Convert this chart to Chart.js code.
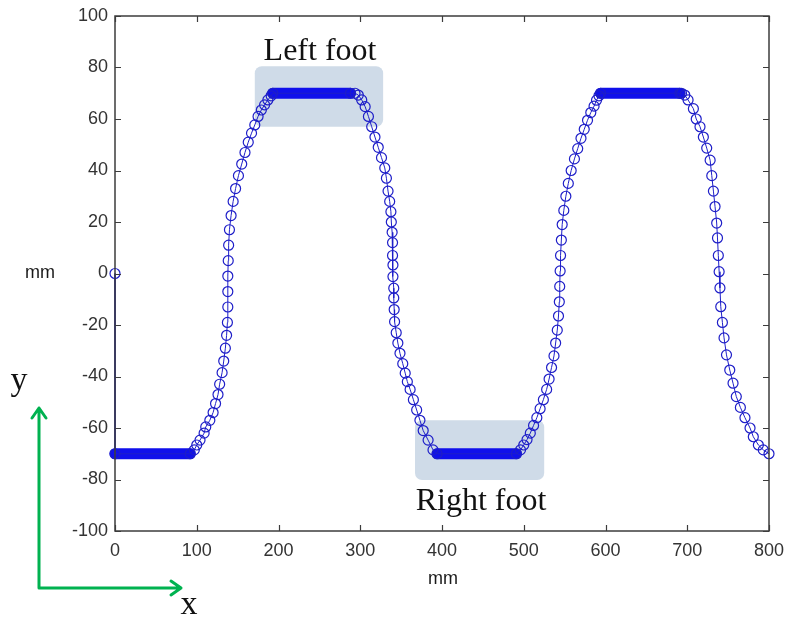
<!DOCTYPE html>
<html>
<head>
<meta charset="utf-8">
<script src="https://cdn.jsdelivr.net/npm/chart.js@4.4.1/dist/chart.umd.min.js"></script>
<style>
  body { margin: 0; background: #fff; }
  #wrap { width: 788px; height: 617px; position: relative; }
</style>
</head>
<body>
<div id="wrap"><canvas id="foot-chart"></canvas></div>
<script>
// x in mm (forward), y in mm (lateral)
const startPoint = { x: 0, y: 0 };

const riseOneX = [92, 97, 100, 104, 109, 111, 116, 120, 123, 126, 128, 131, 133, 135, 136.5, 137.5, 138, 138, 138, 138.5, 139, 140, 142, 144.5, 147.5, 151, 155, 159, 163, 167, 171, 175, 179, 183, 187, 191, 193];
const riseOneY = [-70, -68.5, -66.6, -64.7, -62, -59.6, -57, -54, -50.5, -47, -43, -38.5, -34, -29, -24, -19, -13, -7, -1, 5, 11, 17, 22.5, 28, 33, 38, 42.5, 47, 51, 54.5, 57.7, 61, 63.5, 65.5, 67.4, 69, 70];

const fallOneX = [288, 293.6, 297.6, 301.8, 306, 310, 314, 318, 322, 326, 330, 332, 334, 336, 337.5, 338, 339, 339.5, 339.5, 340, 340, 341, 341, 341.5, 342, 344, 346, 348.6, 352, 355, 357.6, 361, 365, 369, 373, 377, 383, 389, 394];
const fallOneY = [70, 70, 69.3, 67.4, 64.8, 61, 57, 53, 49, 45, 41, 37, 32, 28, 24, 20, 16, 12, 7, 3.3, -1.2, -5.7, -9.5, -14, -18.7, -23, -27, -31, -35, -38.7, -42, -45, -49, -53, -57, -61, -64.7, -68.5, -70];

const riseTwoX = [491, 496, 500, 504, 508, 512, 516, 520, 524, 528, 531, 534, 537, 539, 541, 542.5, 543.5, 544, 544.5, 545, 546, 547, 549, 551.5, 554.5, 558, 562, 566, 570, 574, 578, 582, 586, 589, 592, 594];
const riseTwoY = [-70, -68.5, -66.6, -64.5, -62, -59, -56, -52.5, -49, -45, -41, -36.5, -32, -27, -22, -16.5, -11, -5, 1, 7, 13, 19, 24.5, 30, 35, 40, 44.5, 48.5, 52.5, 56, 59.5, 62.5, 65, 67.3, 69, 70];

const fallTwoX = [691, 693, 697, 701, 707.5, 711, 715.6, 719.7, 723.8, 728, 730, 732, 734, 736, 737, 738, 739, 740, 741, 743, 745, 748, 752, 756, 760, 765, 770.6, 776.8, 780.8, 787, 793, 800];
const fallTwoY = [70, 70, 69.3, 67.4, 64, 60, 57, 53, 48.7, 44, 38, 32, 26, 19.6, 13.8, 7, 0.7, -5.6, -12.9, -19, -25, -31.6, -37.5, -42.6, -47.8, -52, -56, -60, -63.4, -66.6, -68.5, -70];

// support phases: x start/end and lateral position
const flatStartX = [0, 193, 394, 594];
const flatEndX = [92, 288, 491, 691];
const flatY = [-70, 70, -70, 70];

const xTicks = [0, 100, 200, 300, 400, 500, 600, 700, 800];
const yTicks = [-100, -80, -60, -40, -20, 0, 20, 40, 60, 80, 100];

function zipPoints(xs, ys) {
    return xs.map((x, i) => ({ x: x, y: ys[i] }));
}

const pathPoints = [startPoint, { x: flatStartX[0], y: flatY[0] }]
    .concat(zipPoints(riseOneX, riseOneY))
    .concat(zipPoints(fallOneX, fallOneY))
    .concat(zipPoints(riseTwoX, riseTwoY))
    .concat(zipPoints(fallTwoX, fallTwoY));

// the flat parts are a solid blob of markers in the figure
const flatSets = flatStartX.map((x0, i) => ({
    data: [{ x: x0, y: flatY[i] }, { x: flatEndX[i], y: flatY[i] }],
    showLine: true,
    borderColor: 'rgb(16,16,235)',
    borderWidth: 11,
    borderCapStyle: 'round',
    pointRadius: 0,
    clip: false,
}));

const footBoxes = [
    { x0: 171, x1: 328, y0: 57, y1: 80.5 },
    { x0: 367, x1: 525, y0: -80.2, y1: -57 },
];

const decorPlugin = {
    id: 'decor',
    beforeDatasetsDraw(chart) {
        const ctx = chart.ctx;
        const xs = chart.scales.x, ys = chart.scales.y;
        ctx.save();
        ctx.fillStyle = 'rgb(207,219,232)';
        footBoxes.forEach(b => {
            const l = xs.getPixelForValue(b.x0), r = xs.getPixelForValue(b.x1);
            const t = ys.getPixelForValue(b.y1), btm = ys.getPixelForValue(b.y0);
            ctx.beginPath();
            ctx.roundRect(l, t, r - l, btm - t, 7);
            ctx.fill();
        });
        ctx.restore();
    },
    afterDraw(chart) {
        const ctx = chart.ctx;
        const a = chart.chartArea;
        const xs = chart.scales.x, ys = chart.scales.y;
        ctx.save();
        // box frame with inward ticks
        ctx.strokeStyle = '#3c3c3c';
        ctx.lineWidth = 1.5;
        ctx.strokeRect(a.left, a.top, a.right - a.left, a.bottom - a.top);
        ctx.lineWidth = 1.2;
        ctx.beginPath();
        xTicks.forEach(v => {
            const px = Math.round(xs.getPixelForValue(v)) + 0.5;
            ctx.moveTo(px, a.bottom); ctx.lineTo(px, a.bottom - 6);
            ctx.moveTo(px, a.top); ctx.lineTo(px, a.top + 6);
        });
        yTicks.forEach(v => {
            const py = Math.round(ys.getPixelForValue(v)) + 0.5;
            ctx.moveTo(a.left, py); ctx.lineTo(a.left + 6, py);
            ctx.moveTo(a.right, py); ctx.lineTo(a.right - 6, py);
        });
        ctx.stroke();

        // axis unit labels
        ctx.fillStyle = '#1a1a1a';
        ctx.font = '18px "Liberation Sans"';
        ctx.textAlign = 'center';
        ctx.textBaseline = 'middle';
        ctx.fillText('mm', 40, 273);
        ctx.fillText('mm', 443, 579);

        // foot labels
        ctx.fillStyle = '#111';
        ctx.font = '32px "Liberation Serif"';
        ctx.textBaseline = 'alphabetic';
        ctx.fillText('Left foot', 320, 60);
        ctx.fillText('Right foot', 481, 510);

        // green reference frame
        ctx.strokeStyle = 'rgb(0,178,80)';
        ctx.lineWidth = 3;
        ctx.lineCap = 'round';
        ctx.lineJoin = 'round';
        ctx.beginPath();
        ctx.moveTo(39, 408); ctx.lineTo(39, 588); ctx.lineTo(181, 588);
        ctx.moveTo(32, 418); ctx.lineTo(39, 408); ctx.lineTo(46, 418);
        ctx.moveTo(171, 581); ctx.lineTo(181, 588); ctx.lineTo(171, 595);
        ctx.stroke();

        ctx.fillStyle = '#111';
        ctx.font = '34px "Liberation Serif"';
        ctx.textAlign = 'center';
        ctx.fillText('y', 19, 390);
        ctx.fillText('x', 189, 614);
        ctx.restore();
    }
};

window.onload = () => {
    Chart.defaults.font.family = '"Liberation Sans", Arial, sans-serif';
    const ctx = document.getElementById('foot-chart').getContext('2d');
    new Chart(ctx, {
        type: 'scatter',
        data: {
            datasets: [
                {
                    data: pathPoints,
                    showLine: true,
                    borderColor: 'rgb(30,30,200)',
                    borderWidth: 1,
                    pointRadius: 5,
                    pointBorderWidth: 1.2,
                    pointBorderColor: 'rgb(30,30,200)',
                    pointBackgroundColor: 'rgba(0,0,0,0)',
                    clip: false,
                },
            ].concat(flatSets),
        },
        options: {
            responsive: true,
            maintainAspectRatio: false,
            animation: false,
            events: [],
            layout: { padding: { left: 0, top: 16, right: 19, bottom: 0 } },
            plugins: { legend: { display: false }, tooltip: { enabled: false } },
            scales: {
                x: {
                    type: 'linear',
                    min: 0, max: 800,
                    afterFit: s => { s.height = 86; s.paddingLeft = 0; s.paddingRight = 0; },
                    afterBuildTicks: s => { s.ticks = xTicks.map(v => ({ value: v })); },
                    grid: { display: false, drawTicks: false },
                    border: { display: false },
                    ticks: { color: '#333', font: { size: 18 }, padding: 9, maxRotation: 0 },
                },
                y: {
                    type: 'linear',
                    min: -100, max: 100,
                    afterFit: s => { s.width = 115; s.paddingTop = 0; s.paddingBottom = 0; },
                    afterBuildTicks: s => { s.ticks = yTicks.map(v => ({ value: v })); },
                    grid: { display: false, drawTicks: false },
                    border: { display: false },
                    ticks: { color: '#333', font: { size: 18 }, padding: 7 },
                },
            },
        },
        plugins: [decorPlugin],
    });
};
</script>
</body>
</html>
